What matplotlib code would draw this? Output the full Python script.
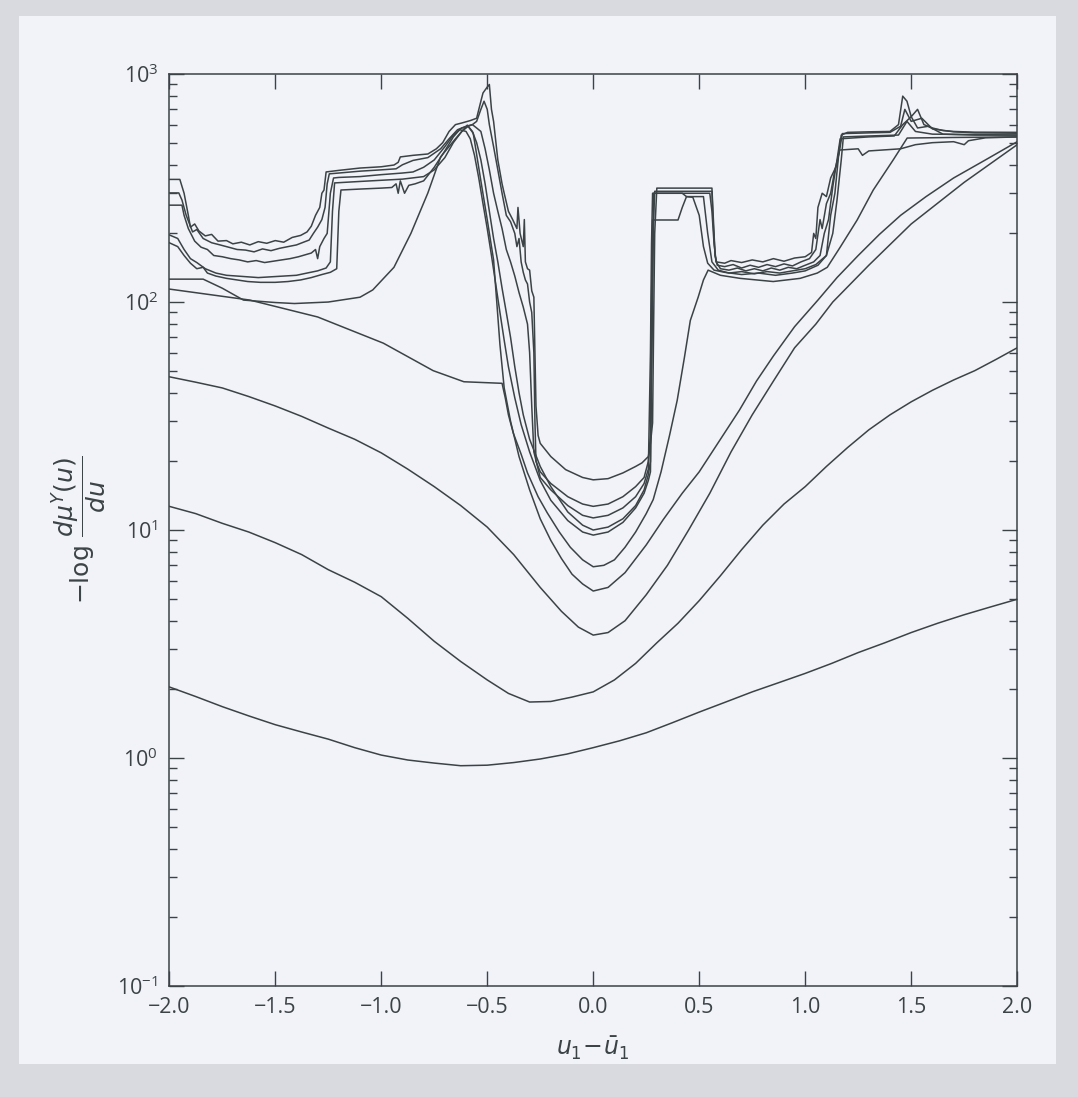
import matplotlib.pyplot as plt
from matplotlib.ticker import LogLocator, NullFormatter, FixedLocator

# ---- data (x = u1 - u1bar, y = -log dmu/du) ----
c1_x = [-2.0, -1.875, -1.75, -1.625, -1.5, -1.375, -1.25, -1.125, -1.0, -0.875, -0.75, -0.625, -0.5, -0.375, -0.25,
        -0.125, 0.0, 0.125, 0.25, 0.375, 0.5, 0.625, 0.75, 0.875, 1.0, 1.125, 1.25, 1.375, 1.5, 1.625,
        1.75, 1.875, 2.0]
c1_y = [2.05, 1.86, 1.68, 1.53, 1.40, 1.30, 1.21, 1.11, 1.03, 0.98, 0.95, 0.925, 0.93, 0.955, 0.99,
        1.04, 1.11, 1.19, 1.29, 1.43, 1.59, 1.76, 1.95, 2.14, 2.35, 2.6, 2.9, 3.2, 3.55, 3.9,
        4.25, 4.6, 4.97]

c2_x = [-2.0, -1.875, -1.75, -1.625, -1.5, -1.375, -1.25, -1.125, -1.0, -0.875, -0.75, -0.625, -0.5, -0.4, -0.3,
        -0.2, -0.1, 0.0, 0.1, 0.2, 0.3, 0.4, 0.5, 0.6, 0.7, 0.8, 0.9, 1.0, 1.1, 1.2,
        1.3, 1.4, 1.5, 1.6, 1.7, 1.8, 1.9, 2.0]
c2_y = [12.7, 11.8, 10.7, 9.8, 8.8, 7.8, 6.7, 5.9, 5.1, 4.1, 3.25, 2.65, 2.2, 1.92, 1.76,
        1.77, 1.85, 1.95, 2.2, 2.6, 3.2, 3.9, 4.9, 6.3, 8.2, 10.5, 13, 15.5, 19, 23,
        27.5, 32, 36.5, 41, 45.5, 50, 56, 63]

c3_x = [-2.0, -1.875, -1.75, -1.625, -1.5, -1.375, -1.25, -1.125, -1.0, -0.875, -0.75, -0.625, -0.5, -0.375, -0.25,
        -0.15, -0.07, 0.0, 0.07, 0.15, 0.25, 0.35, 0.45, 0.55, 0.65, 0.75, 0.85, 0.95, 1.05, 1.13,
        1.3, 1.5, 1.75, 2.0]
c3_y = [47, 44.5, 42, 38.5, 35, 31.5, 28, 25, 21.8, 18.5, 15.5, 12.8, 10.3, 7.8, 5.6,
        4.4, 3.75, 3.46, 3.55, 4.0, 5.2, 7.0, 10.0, 14.5, 22, 32, 45, 63, 80, 100,
        145, 220, 335, 490]

# smooth curve: 126 plateau, dip, peak ~600, then deep well (min ~5.4)
ca_x = [-2.0, -1.84, -1.75, -1.65, -1.5, -1.41, -1.25, -1.1, -1.04, -0.94, -0.86, -0.78, -0.72, -0.65, -0.594,
        -0.566, -0.53, -0.5, -0.47, -0.455, -0.44, -0.42, -0.39, -0.35, -0.3, -0.25, -0.2, -0.15, -0.1, -0.05,
        0.0, 0.07, 0.15, 0.25, 0.33, 0.42, 0.5, 0.6, 0.69, 0.77, 0.85, 0.95, 1.06, 1.15, 1.25,
        1.35, 1.45, 1.57, 1.7, 1.85, 2.0]
ca_y = [126, 126, 115, 102, 99.5, 98.5, 100, 105, 113, 142, 200, 301, 433, 520, 597,
        550, 340, 230, 153, 100, 65, 42, 30, 21, 15, 11.2, 9.0, 7.5, 6.4, 5.8,
        5.4, 5.6, 6.5, 8.6, 11.1, 14.5, 18, 25, 33.6, 45, 58, 78, 102, 128, 160,
        198, 240, 290, 350, 420, 505]

# smooth curve: 114 start, shelf at 44, well (min ~6.9), joins pool bottom, flat ~525
cb_x = [-2.0, -1.62, -1.3, -0.99, -0.755, -0.61, -0.43, -0.415, -0.4, -0.377, -0.34, -0.31, -0.26, -0.217, -0.16,
        -0.108, -0.05, 0.0, 0.05, 0.1, 0.15, 0.2, 0.25, 0.283, 0.32, 0.36, 0.396, 0.43, 0.458, 0.495,
        0.52, 0.542, 0.6, 0.693, 0.849, 0.976, 1.057, 1.104, 1.165, 1.245, 1.321, 1.415, 1.481, 1.7, 2.0]
cb_y = [114, 102, 86, 66, 50, 44.7, 44, 38, 32, 26.6, 21.5, 17.8, 14, 11.9, 9.8,
        8.4, 7.4, 6.9, 7.0, 7.4, 8.4, 9.8, 11.8, 13.6, 18, 26, 37, 57, 83, 105,
        125, 138, 131, 127, 123, 127, 134, 142, 174, 229, 310, 420, 524, 527, 530]

# noisy curves
n1_x = [-2.0, -1.95, -1.93, -1.91, -1.90, -1.88, -1.86, -1.83, -1.80, -1.77, -1.73, -1.70, -1.66, -1.62, -1.58,
        -1.54, -1.50, -1.46, -1.42, -1.38, -1.35, -1.33, -1.31, -1.29, -1.28, -1.27, -1.26, -1.20, -1.10, -1.0,
        -0.94, -0.92, -0.91, -0.85, -0.78, -0.74, -0.71, -0.68, -0.65, -0.62, -0.58, -0.55, -0.53, -0.52, -0.50,
        -0.49, -0.48, -0.47, -0.45, -0.43, -0.42, -0.40, -0.38, -0.36, -0.355, -0.345, -0.33, -0.325, -0.32, -0.31,
        -0.30, -0.29, -0.28, -0.275, -0.27, -0.26, -0.25, -0.2, -0.13, -0.05, 0.0, 0.07, 0.14, 0.2, 0.23,
        0.26, 0.27, 0.28, 0.285, 0.29, 0.3, 0.56, 0.565, 0.57, 0.575, 0.58, 0.62, 0.65, 0.7, 0.75,
        0.8, 0.85, 0.9, 0.95, 1.0, 1.03, 1.04, 1.05, 1.06, 1.08, 1.1, 1.12, 1.15, 1.17, 1.2,
        1.3, 1.4, 1.44, 1.46, 1.48, 1.5, 1.53, 1.56, 1.6, 1.65, 1.7, 1.8, 2.0]
n1_y = [345, 345, 300, 240, 213, 220, 205, 195, 198, 185, 186, 180, 183, 178, 184,
        181, 186, 183, 192, 196, 203, 215, 240, 260, 300, 310, 372, 378, 387, 392,
        399, 410, 433, 440, 446, 470, 500, 560, 600, 610, 625, 640, 760, 826, 877,
        900, 700, 620, 420, 330, 300, 250, 230, 210, 260, 200, 175, 230, 150, 140,
        138, 112, 105, 60, 35, 26, 24, 21, 18.4, 17, 16.6, 16.8, 17.8, 19, 19.7,
        21, 24, 29.5, 80, 200, 316, 316, 250, 200, 160, 150, 148, 152, 149, 153,
        150, 155, 151, 156, 158, 165, 200, 190, 260, 300, 290, 350, 400, 540, 555,
        558, 560, 600, 800, 760, 650, 700, 600, 580, 565, 560, 556, 555]

n2_x = [-2.0, -1.955, -1.94, -1.92, -1.89, -1.87, -1.84, -1.80, -1.76, -1.72, -1.68, -1.64, -1.6, -1.56, -1.52,
        -1.48, -1.44, -1.40, -1.36, -1.34, -1.32, -1.30, -1.28, -1.265, -1.255, -1.245, -1.2, -1.1, -1.0, -0.93,
        -0.9, -0.85, -0.78, -0.72, -0.68, -0.64, -0.6, -0.57, -0.55, -0.53, -0.515, -0.50, -0.49, -0.47, -0.45,
        -0.43, -0.41, -0.39, -0.37, -0.36, -0.35, -0.34, -0.33, -0.32, -0.31, -0.30, -0.29, -0.28, -0.275, -0.27,
        -0.25, -0.2, -0.12, -0.05, 0.0, 0.07, 0.14, 0.2, 0.24, 0.26, 0.27, 0.275, 0.28, 0.285, 0.29,
        0.56, 0.565, 0.575, 0.585, 0.62, 0.66, 0.7, 0.74, 0.78, 0.82, 0.86, 0.9, 0.94, 0.98, 1.02,
        1.05, 1.07, 1.08, 1.1, 1.12, 1.14, 1.16, 1.175, 1.3, 1.4, 1.45, 1.47, 1.5, 1.55, 1.6,
        1.7, 1.8, 2.0]
n2_y = [301, 301, 280, 240, 203, 208, 190, 182, 178, 174, 170, 169, 166, 171, 168,
        172, 175, 178, 184, 187, 200, 213, 230, 260, 330, 365, 368, 375, 380, 384,
        400, 418, 430, 470, 520, 570, 590, 600, 620, 700, 760, 700, 600, 480, 380,
        300, 240, 225, 200, 175, 190, 150, 135, 125, 120, 100, 90, 60, 30, 20,
        18, 16, 14, 13, 12.7, 13, 14, 15.5, 17, 20, 26, 60, 150, 230, 306,
        306, 230, 160, 145, 143, 146, 141, 145, 142, 146, 143, 147, 144, 150, 155,
        170, 230, 210, 270, 300, 380, 450, 548, 552, 555, 590, 700, 620, 640, 575,
        558, 552, 550]

n3_x = [-2.0, -1.94, -1.93, -1.91, -1.88, -1.85, -1.82, -1.79, -1.75, -1.71, -1.67, -1.63, -1.59, -1.55, -1.51,
        -1.47, -1.43, -1.39, -1.35, -1.33, -1.31, -1.30, -1.29, -1.27, -1.255, -1.24, -1.225, -1.2, -1.1, -1.0,
        -0.9, -0.85, -0.8, -0.75, -0.7, -0.66, -0.62, -0.59, -0.57, -0.55, -0.53, -0.51, -0.49, -0.47, -0.45,
        -0.43, -0.41, -0.39, -0.37, -0.35, -0.33, -0.31, -0.3, -0.29, -0.28, -0.25, -0.2, -0.12, -0.05, 0.0,
        0.07, 0.14, 0.2, 0.24, 0.26, 0.27, 0.275, 0.28, 0.55, 0.56, 0.57, 0.58, 0.6, 0.64, 0.68,
        0.72, 0.76, 0.8, 0.84, 0.88, 0.92, 0.96, 1.0, 1.04, 1.07, 1.09, 1.11, 1.13, 1.15, 1.165,
        1.3, 1.42, 1.46, 1.5, 1.53, 1.58, 1.65, 1.8, 2.0]
n3_y = [266, 266, 240, 210, 185, 174, 170, 160, 158, 155, 153, 150, 152, 149, 151,
        153, 155, 158, 162, 164, 170, 155, 175, 190, 200, 300, 350, 352, 355, 362,
        368, 372, 390, 420, 480, 540, 580, 590, 600, 580, 560, 470, 380, 300, 250,
        210, 170, 150, 130, 110, 95, 80, 60, 35, 22, 17, 15, 12.8, 11.6, 11.3,
        11.6, 12.5, 14, 16, 18.5, 60, 180, 300, 300, 250, 180, 150, 140, 138, 141,
        137, 140, 137, 141, 138, 142, 140, 145, 150, 160, 200, 230, 320, 420, 520,
        530, 535, 600, 650, 580, 590, 545, 540, 540]

n4_x = [-2.0, -1.96, -1.93, -1.9, -1.87, -1.83, -1.78, -1.73, -1.68, -1.63, -1.58, -1.52, -1.46, -1.4, -1.35,
        -1.3, -1.26, -1.24, -1.23, -1.22, -1.1, -1.0, -0.9, -0.8, -0.75, -0.7, -0.66, -0.62, -0.59, -0.57,
        -0.55, -0.53, -0.51, -0.49, -0.47, -0.45, -0.43, -0.41, -0.39, -0.37, -0.35, -0.33, -0.3, -0.25, -0.2,
        -0.12, -0.05, 0.0, 0.07, 0.14, 0.2, 0.24, 0.26, 0.27, 0.275, 0.28, 0.4, 0.42, 0.44, 0.52,
        0.54, 0.56, 0.59, 0.64, 0.7, 0.76, 0.82, 0.88, 0.94, 1.0, 1.05, 1.1, 1.13, 1.15, 1.17,
        1.18, 1.3, 1.44, 1.48, 1.52, 1.6, 2.0]
n4_y = [197, 190, 170, 155, 149, 140, 134, 131, 130, 129, 128, 129, 130, 131, 134,
        137, 141, 150, 250, 333, 338, 342, 346, 355, 380, 430, 500, 560, 590, 560,
        500, 420, 330, 250, 190, 150, 115, 90, 70, 52, 40, 32, 25, 19, 15.5,
        12, 10.5, 10.0, 10.3, 11.2, 12.8, 15, 17.5, 20, 100, 229, 229, 260, 290, 290,
        200, 150, 138, 134, 136, 133, 136, 134, 137, 140, 146, 160, 200, 280, 420,
        530, 535, 540, 620, 560, 545, 540]

n5_x = [-2.0, -1.96, -1.93, -1.9, -1.87, -1.84, -1.82, -1.78, -1.73, -1.68, -1.63, -1.57, -1.5, -1.44, -1.38,
        -1.33, -1.28, -1.24, -1.21, -1.20, -1.19, -1.1, -1.0, -0.95, -0.93, -0.92, -0.91, -0.89, -0.87, -0.84,
        -0.8, -0.75, -0.7, -0.66, -0.63, -0.6, -0.58, -0.56, -0.54, -0.52, -0.5, -0.48, -0.46, -0.44, -0.42,
        -0.4, -0.37, -0.34, -0.3, -0.25, -0.2, -0.12, -0.05, 0.0, 0.07, 0.14, 0.2, 0.24, 0.26, 0.27,
        0.28, 0.285, 0.42, 0.44, 0.47, 0.5, 0.52, 0.54, 0.57, 0.62, 0.7, 0.78, 0.86, 0.94, 1.0,
        1.06, 1.1, 1.12, 1.14, 1.16, 1.25, 1.27, 1.3, 1.45, 1.52, 1.6, 1.7, 1.75, 1.77, 1.85, 2.0]
n5_y = [182, 175, 160, 148, 140, 142, 134, 130, 127, 125, 123, 122, 122, 123, 125,
        128, 132, 135, 140, 250, 310, 313, 316, 318, 330, 300, 340, 300, 325, 330,
        340, 390, 460, 530, 570, 560, 520, 440, 350, 270, 210, 160, 120, 90, 68,
        52, 38, 29, 22, 16.5, 13.5, 11, 9.8, 9.5, 9.8, 10.8, 12.5, 14.5, 16.5, 18,
        100, 300, 300, 290, 288, 240, 175, 148, 138, 135, 132, 134, 131, 134, 137,
        145, 160, 240, 300, 464, 470, 440, 460, 470, 490, 500, 505, 490, 510, 525, 530]

curves = [(c1_x, c1_y), (c2_x, c2_y), (c3_x, c3_y), (ca_x, ca_y), (cb_x, cb_y),
          (n1_x, n1_y), (n2_x, n2_y), (n3_x, n3_y), (n4_x, n4_y), (n5_x, n5_y)]

xticks = [-2.0, -1.5, -1.0, -0.5, 0.0, 0.5, 1.0, 1.5, 2.0]
xticklabels = ['\u22122.0', '\u22121.5', '\u22121.0', '\u22120.5', '0.0', '0.5', '1.0', '1.5', '2.0']

plt.rcParams['font.family'] = ['Open Sans', 'DejaVu Sans']
plt.rcParams['mathtext.fontset'] = 'dejavusans'

ink = '#3b4347'
bg = '#f1f3f9'

fig = plt.figure(figsize=(10.78, 10.97), dpi=100, facecolor='#d9dadf')
# paper area inside the grey scan border
fig.patches.append(plt.Rectangle((0.018, 0.03), 0.962, 0.955, transform=fig.transFigure,
                                 facecolor=bg, edgecolor='none', zorder=-10))
ax = fig.add_axes([0.157, 0.1012, 0.7866, 0.8313])
ax.set_zorder(5)
ax.set_facecolor(bg)

for x, y in curves:
    ax.plot(x, y, color=ink, lw=1.1)

ax.set_yscale('log')
ax.set_xlim(-2.0, 2.0)
ax.set_ylim(0.1, 1000)
ax.xaxis.set_major_locator(FixedLocator(xticks))
ax.set_xticklabels(xticklabels)
ax.yaxis.set_major_locator(LogLocator(base=10, numticks=10))
ax.yaxis.set_minor_locator(LogLocator(base=10, subs=range(2, 10), numticks=20))
ax.yaxis.set_minor_formatter(NullFormatter())

ax.tick_params(which='both', direction='in', top=True, right=True, colors=ink, labelsize=15.5, width=1.0)
ax.tick_params(which='major', length=11, pad=8)
ax.tick_params(which='minor', length=6)
for s in ax.spines.values():
    s.set_color(ink)
    s.set_linewidth(1.1)

ax.set_xlabel(r'$u_1\!-\!\bar{u}_1$', fontsize=17, color=ink, labelpad=12)
ax.set_ylabel(r'$-\log\,\dfrac{d\mu^Y(u)}{du}$', fontsize=18, color=ink, labelpad=6)

plt.savefig('out.png', dpi=100, facecolor=fig.get_facecolor())
